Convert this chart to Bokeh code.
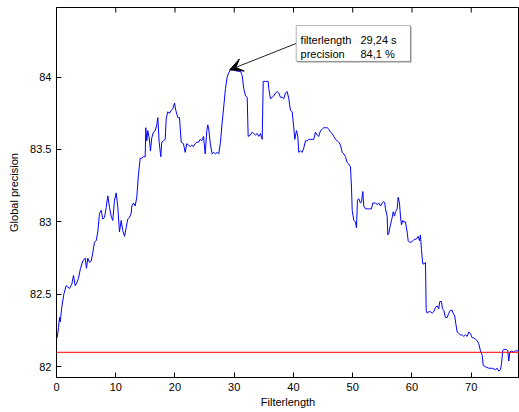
from bokeh.plotting import figure
from bokeh.models import (Range1d, FixedTicker, Span, Arrow,
                          VeeHead, BoxAnnotation, Label)
from bokeh.embed import file_html
from bokeh.resources import INLINE

# ---- data ----
filterlength = [
    0.12, 0.34, 0.51, 0.62, 0.89, 1.23, 1.64, 1.91, 2.19, 2.58,
    2.87, 3.16, 3.43, 3.71, 4.05, 4.44, 4.84, 5.06, 5.28, 5.57,
    5.86, 6.13, 6.41, 6.70, 6.97, 7.26, 7.54, 7.81, 8.10, 8.39,
    8.66, 8.95, 9.23, 9.50, 9.79, 10.08, 10.35, 10.63, 10.92, 11.19,
    11.48, 11.76, 12.03, 12.32, 12.61, 12.71, 13.00, 13.28, 13.55, 13.84,
    14.13, 14.40, 14.68, 14.97, 15.07, 15.24, 15.41, 15.65, 15.86, 16.08,
    16.37, 16.66, 16.93, 17.10, 17.33, 17.60, 17.77, 18.06, 18.35, 18.51,
    18.78, 19.07, 19.36, 19.63, 19.92, 20.14, 20.47, 20.76, 21.05, 21.43,
    21.72, 21.99, 22.28, 22.57, 22.84, 23.12, 23.41, 23.68, 23.97, 24.25,
    24.52, 24.81, 25.10, 25.37, 25.54, 25.70, 25.99, 26.28, 26.55, 26.84,
    27.12, 27.39, 27.68, 27.97, 28.24, 28.52, 28.81, 29.08, 29.37, 29.92,
    30.50, 31.05, 31.34, 31.61, 31.90, 32.19, 32.35, 32.74, 33.03, 33.30,
    33.59, 33.87, 34.14, 34.43, 34.72, 34.89, 35.27, 35.73, 35.83, 36.12,
    36.40, 36.68, 36.96, 37.25, 37.52, 37.81, 38.09, 38.36, 38.65, 38.94,
    39.21, 39.49, 39.78, 40.05, 40.22, 40.51, 40.73, 40.89, 41.18, 41.47,
    41.74, 42.03, 42.31, 42.58, 42.87, 43.16, 43.43, 43.71, 44.00, 44.27,
    44.56, 44.84, 45.11, 45.40, 45.69, 45.96, 46.24, 46.53, 46.80, 47.09,
    47.38, 47.65, 47.93, 48.22, 48.49, 48.78, 49.06, 49.33, 49.62, 49.79,
    49.91, 50.18, 50.46, 50.63, 50.80, 51.02, 51.31, 51.48, 51.70, 51.86,
    52.15, 52.71, 53.16, 53.38, 53.84, 54.13, 54.40, 54.68, 54.97, 55.24,
    55.41, 55.53, 55.81, 55.92, 56.08, 56.37, 56.66, 56.83, 57.05, 57.22,
    57.50, 57.67, 57.89, 58.06, 58.23, 58.45, 58.62, 58.90, 59.19, 59.36,
    59.58, 59.86, 60.14, 60.42, 60.71, 61.05, 61.27, 61.43, 61.60, 61.82,
    62.06, 62.28, 62.40, 62.57, 62.84, 63.12, 63.41, 63.68, 63.97, 64.25,
    64.52, 64.69, 64.98, 65.15, 65.37, 65.65, 65.94, 66.21, 66.50, 66.78,
    66.95, 67.22, 67.39, 67.63, 67.90, 68.19, 68.47, 68.74, 69.03, 69.32,
    69.59, 69.87, 70.16, 70.43, 70.72, 71.00, 71.27, 71.56, 71.85, 72.02,
    72.41, 72.96, 73.54, 74.09, 74.38, 74.65, 74.94, 75.11, 75.32, 75.49,
    75.90, 76.17, 76.34, 76.51, 76.74, 77.18, 77.47, 77.86, 78.15,
]
precision = [
    82.20, 82.27, 82.34, 82.31, 82.41, 82.50, 82.56, 82.55, 82.54, 82.57,
    82.63, 82.56, 82.58, 82.61, 82.68, 82.73, 82.75, 82.68, 82.75, 82.72,
    82.73, 82.79, 82.86, 82.87, 82.93, 83.06, 83.08, 83.02, 83.03, 83.10,
    83.18, 83.10, 83.04, 83.01, 83.15, 83.20, 83.10, 82.93, 83.01, 82.94,
    82.90, 82.96, 83.02, 83.03, 83.06, 83.11, 83.13, 83.11, 83.17, 83.33,
    83.44, 83.44, 83.45, 83.45, 83.65, 83.56, 83.63, 83.58, 83.49, 83.58,
    83.62, 83.63, 83.67, 83.72, 83.55, 83.45, 83.55, 83.56, 83.57, 83.71,
    83.76, 83.75, 83.77, 83.78, 83.82, 83.77, 83.72, 83.72, 83.55, 83.54,
    83.48, 83.54, 83.53, 83.52, 83.53, 83.52, 83.54, 83.55, 83.55, 83.57,
    83.56, 83.59, 83.47, 83.63, 83.67, 83.64, 83.53, 83.47, 83.48, 83.47,
    83.48, 83.47, 83.55, 83.69, 83.80, 83.92, 84.00, 84.03, 84.05, 84.05,
    84.04, 84.04, 84.01, 83.92, 83.87, 83.86, 83.59, 83.60, 83.62, 83.61,
    83.60, 83.61, 83.59, 83.61, 83.57, 83.97, 83.97, 83.97, 83.92, 83.85,
    83.86, 83.87, 83.89, 83.90, 83.89, 83.86, 83.86, 83.85, 83.89, 83.90,
    83.85, 83.77, 83.76, 83.65, 83.57, 83.63, 83.59, 83.48, 83.49, 83.48,
    83.51, 83.56, 83.56, 83.57, 83.57, 83.57, 83.57, 83.62, 83.60, 83.59,
    83.63, 83.64, 83.65, 83.65, 83.65, 83.64, 83.62, 83.61, 83.59, 83.57,
    83.56, 83.55, 83.53, 83.48, 83.47, 83.45, 83.41, 83.40, 83.38, 83.24,
    83.08, 83.01, 83.00, 82.96, 83.15, 83.16, 83.13, 83.14, 83.21, 83.11,
    83.09, 83.09, 83.09, 83.13, 83.13, 83.12, 83.13, 83.11, 83.13, 83.14,
    83.13, 83.09, 83.04, 82.91, 82.92, 82.98, 83.03, 83.07, 83.04, 83.07,
    83.09, 83.17, 83.13, 83.04, 82.98, 83.01, 83.00, 83.00, 82.93, 82.87,
    82.86, 82.86, 82.87, 82.88, 82.88, 82.90, 82.87, 82.91, 82.81, 82.71,
    82.71, 82.72, 82.39, 82.37, 82.38, 82.38, 82.37, 82.38, 82.41, 82.42,
    82.40, 82.45, 82.45, 82.40, 82.39, 82.34, 82.34, 82.37, 82.39, 82.39,
    82.37, 82.35, 82.30, 82.24, 82.23, 82.22, 82.22, 82.21, 82.22, 82.21,
    82.24, 82.23, 82.20, 82.20, 82.19, 82.18, 82.16, 82.11, 82.08, 82.01,
    82.00, 81.99, 81.99, 81.98, 81.99, 81.97, 81.98, 82.02, 82.11, 82.12,
    82.12, 82.11, 82.04, 82.10, 82.11, 82.10, 82.11, 82.11, 82.11,
]
x_ticks = [0, 10, 20, 30, 40, 50, 60, 70]
y_ticks = [82, 82.5, 83, 83.5, 84]
y_tick_labels = ["82", "82.5", "83", "83.5", "84"]
threshold = 82.1
peak_filterlength = 29.24
peak_precision = 84.05
tip_names = ["filterlength", "precision"]
tip_values = ["29,24 s", "84,1 %"]

FONT = "Liberation Sans"
X0, X1 = 0, 78.15
Y0, Y1 = 81.926, 84.48
FRAME_H = 370

p = figure(width=519, height=412, output_backend="svg", toolbar_location=None,
           x_range=Range1d(X0, X1), y_range=Range1d(Y0, Y1),
           min_border_left=56, min_border_right=0, min_border_top=7,
           min_border_bottom=35, background_fill_color="white",
           border_fill_color="white", outline_line_color="black",
           outline_line_width=1)
p.xgrid.visible = False
p.ygrid.visible = False

for ax in (p.xaxis[0], p.yaxis[0]):
    ax.major_tick_in = 5
    ax.major_tick_out = 0
    ax.minor_tick_line_color = None
    ax.axis_line_color = "black"
    ax.major_tick_line_color = "black"
    ax.major_label_text_font = FONT
    ax.major_label_text_font_size = "11px"
    ax.major_label_text_color = "black"
    ax.axis_label_text_font = FONT
    ax.axis_label_text_font_size = "11px"
    ax.axis_label_text_font_style = "normal"
    ax.axis_label_text_color = "black"

p.xaxis[0].ticker = FixedTicker(ticks=x_ticks)
p.xaxis[0].major_label_standoff = 5
p.xaxis[0].axis_label = "Filterlength"
p.xaxis[0].axis_label_standoff = 2

p.yaxis[0].ticker = FixedTicker(ticks=y_ticks)
p.yaxis[0].major_label_overrides = {t: l for t, l in zip(y_ticks, y_tick_labels)}
p.yaxis[0].major_label_standoff = 5
p.yaxis[0].axis_label = "Global precision"
p.yaxis[0].axis_label_standoff = 7

# inward tick marks along the top edge of the box (MATLAB style)
tick_len = 5 * (Y1 - Y0) / FRAME_H
p.segment(x0=x_ticks, y0=[Y1] * len(x_ticks), x1=x_ticks,
          y1=[Y1 - tick_len] * len(x_ticks), line_color="black", line_width=1)

p.line(filterlength, precision, line_color="#0000ff", line_width=1)
p.add_layout(Span(location=threshold, dimension="width",
                  line_color="#ff0000", line_width=1))

# datatip annotation
box_left, box_right, box_bottom, box_top = 40.46, 59.75, 84.108, 84.355
p.add_layout(BoxAnnotation(left=box_left + 0.17, right=box_right + 0.17,
                           bottom=box_bottom - 0.007, top=box_top - 0.007,
                           fill_color="#9a9a9a", fill_alpha=1,
                           line_color=None))
p.add_layout(BoxAnnotation(left=box_left, right=box_right, bottom=box_bottom,
                           top=box_top, fill_color="white", fill_alpha=1,
                           line_color="black", line_width=1))
p.add_layout(Arrow(end=VeeHead(size=13, fill_color="black",
                               line_color="black", line_width=1),
                   x_start=box_left, y_start=84.232,
                   x_end=peak_filterlength, y_end=peak_precision,
                   line_color="#222222", line_width=1))
row_y = [84.259, 84.162]
for name, val, yy in zip(tip_names, tip_values, row_y):
    p.add_layout(Label(x=41.2, y=yy, text=name, text_font=FONT,
                       text_font_size="11px", text_baseline="middle",
                       text_color="black"))
    p.add_layout(Label(x=51.31, y=yy, text=val, text_font=FONT,
                       text_font_size="11px", text_baseline="middle",
                       text_color="black"))

open("out.html", "w").write(file_html(p, INLINE))
